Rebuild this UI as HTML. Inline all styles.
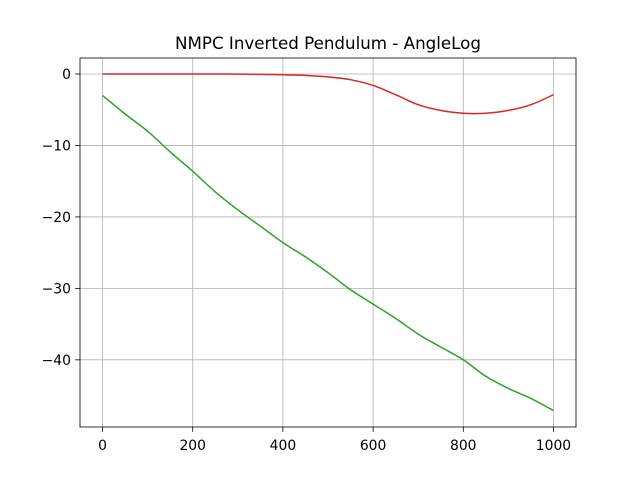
<!DOCTYPE html>
<html><head><meta charset="utf-8"><style>
body{margin:0;background:#fff;}
text{font-family:"DejaVu Sans","Liberation Sans",sans-serif;}
</style></head><body>
<svg id="chart" width="640" height="480" xmlns="http://www.w3.org/2000/svg"></svg>
<script>
const xTicks=[0,200,400,600,800,1000];
const yTicks=[0,-10,-20,-30,-40];
const xsG=[0,50,100,150,200,250,300,350,400,450,500,550,600,650,700,750,800,850,900,950,1000];
const green=[-3,-5.6,-8,-10.9,-13.6,-16.5,-19,-21.3,-23.6,-25.6,-27.8,-30.2,-32.2,-34.2,-36.4,-38.2,-40,-42.3,-44,-45.4,-47.1];
const red=[0,0,0,0,0,0,-0.02,-0.05,-0.1,-0.2,-0.4,-0.8,-1.6,-2.9,-4.3,-5.1,-5.5,-5.5,-5.1,-4.3,-2.9];
const L=80,R=576,T=58,B=427;
const xmin=-50,xmax=1050,ymin=-49.4,ymax=2.24;
const X=v=>L+(v-xmin)/(xmax-xmin)*(R-L);
const Y=v=>B-(v-ymin)/(ymax-ymin)*(B-T);
const svg=document.getElementById('chart');
const NS='http://www.w3.org/2000/svg';
function mk(tag,attrs,parent){const e=document.createElementNS(NS,tag);for(const k in attrs)e.setAttribute(k,attrs[k]);(parent||svg).appendChild(e);return e;}
const grid=mk('g',{});


xTicks.forEach(v=>{mk('line',{x1:X(v),x2:X(v),y1:T,y2:B,stroke:'#b0b0b0','stroke-width':0.8},grid);
 mk('line',{x1:X(v),x2:X(v),y1:B,y2:B+4.9,stroke:'#000','stroke-width':0.8});
 const t=mk('text',{x:X(v),y:B+23,'text-anchor':'middle','font-size':13.9});t.textContent=v;
 
 });
yTicks.forEach(v=>{mk('line',{x1:L,x2:R,y1:Y(v),y2:Y(v),stroke:'#b0b0b0','stroke-width':0.8},grid);
 mk('line',{x1:L-4.9,x2:L,y1:Y(v),y2:Y(v),stroke:'#000','stroke-width':0.8});
 const t=mk('text',{x:L-9,y:Y(v)+5,'text-anchor':'end','font-size':13.9});t.textContent=v===0?'0':'\u2212'+Math.abs(v);
 
 });
function line(arr,color,name){
 const P=xsG.map((x,i)=>[X(x),Y(arr[i])]);
 let d='M'+P[0][0].toFixed(1)+' '+P[0][1].toFixed(1);
 for(let i=0;i<P.length-1;i++){const p0=P[Math.max(0,i-1)],p1=P[i],p2=P[i+1],p3=P[Math.min(P.length-1,i+2)];
  const c1=[p1[0]+(p2[0]-p0[0])/6,p1[1]+(p2[1]-p0[1])/6],c2=[p2[0]-(p3[0]-p1[0])/6,p2[1]-(p3[1]-p1[1])/6];
  d+=' C'+c1[0].toFixed(1)+' '+c1[1].toFixed(1)+' '+c2[0].toFixed(1)+' '+c2[1].toFixed(1)+' '+p2[0].toFixed(1)+' '+p2[1].toFixed(1);}
 const p=mk('path',{d:d,fill:'none',stroke:color,'stroke-width':1.5});
 
 }
line(green,'#2ca02c','green-series');
line(red,'#d62728','red-series');
const f=mk('rect',{x:L,y:T,width:R-L,height:B-T,fill:'none',stroke:'#000','stroke-width':0.8});


const ti=mk('text',{x:(L+R)/2,y:T-9,'text-anchor':'middle','font-size':16.7});ti.textContent='NMPC Inverted Pendulum - AngleLog';


</script>
</body></html>
